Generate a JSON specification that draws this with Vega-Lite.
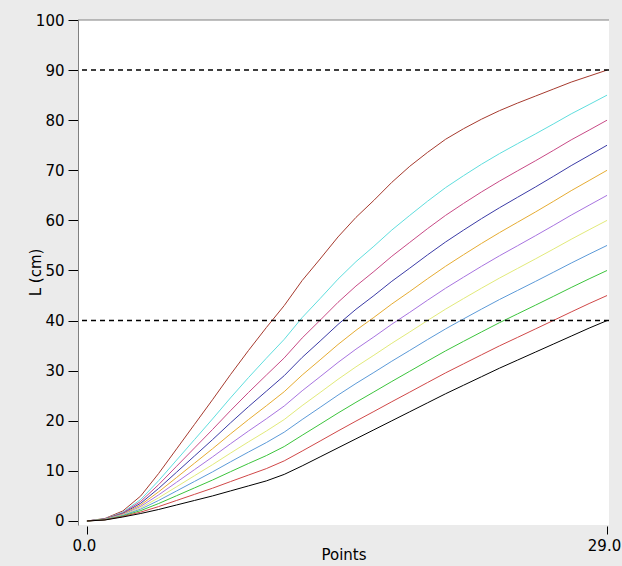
{
"$schema": "https://vega.github.io/schema/vega-lite/v6.json",
"width": 531, "height": 505,
"autosize": "none",
"padding": {"left": 78, "top": 20, "right": 13, "bottom": 41},
"background": "#ebebeb",
"config": {"view": {"fill": "white", "stroke": null}, "font": "DejaVu Sans"},
"datasets": {
"curves": [
{"s":"c01","x":0,"y":0},{"s":"c01","x":1,"y":0.5},{"s":"c01","x":2,"y":2},{"s":"c01","x":3,"y":5},{"s":"c01","x":4,"y":9.5},{"s":"c01","x":5,"y":14.4},{"s":"c01","x":6,"y":19.3},{"s":"c01","x":7,"y":24.2},{"s":"c01","x":8,"y":29.2},{"s":"c01","x":9,"y":34},{"s":"c01","x":10,"y":38.6},{"s":"c01","x":11,"y":43},{"s":"c01","x":12,"y":48},{"s":"c01","x":13,"y":52.3},{"s":"c01","x":14,"y":56.7},{"s":"c01","x":15,"y":60.6},{"s":"c01","x":16,"y":64},{"s":"c01","x":17,"y":67.6},{"s":"c01","x":18,"y":70.8},{"s":"c01","x":19,"y":73.6},{"s":"c01","x":20,"y":76.2},{"s":"c01","x":21,"y":78.3},{"s":"c01","x":22,"y":80.2},{"s":"c01","x":23,"y":81.9},{"s":"c01","x":24,"y":83.4},{"s":"c01","x":25,"y":84.8},{"s":"c01","x":26,"y":86.2},{"s":"c01","x":27,"y":87.6},{"s":"c01","x":28,"y":88.8},{"s":"c01","x":29,"y":90},
{"s":"c02","x":0,"y":0},{"s":"c02","x":1,"y":0.44},{"s":"c02","x":2,"y":1.76},{"s":"c02","x":3,"y":4.3},{"s":"c02","x":4,"y":8.06},{"s":"c02","x":5,"y":12.16},{"s":"c02","x":6,"y":16.26},{"s":"c02","x":7,"y":20.36},{"s":"c02","x":8,"y":24.56},{"s":"c02","x":9,"y":28.6},{"s":"c02","x":10,"y":32.48},{"s":"c02","x":11,"y":36.26},{"s":"c02","x":12,"y":40.6},{"s":"c02","x":13,"y":44.4},{"s":"c02","x":14,"y":48.28},{"s":"c02","x":15,"y":51.76},{"s":"c02","x":16,"y":54.84},{"s":"c02","x":17,"y":58.08},{"s":"c02","x":18,"y":61},{"s":"c02","x":19,"y":63.85},{"s":"c02","x":20,"y":66.55},{"s":"c02","x":21,"y":68.93},{"s":"c02","x":22,"y":71.21},{"s":"c02","x":23,"y":73.32},{"s":"c02","x":24,"y":75.29},{"s":"c02","x":25,"y":77.24},{"s":"c02","x":26,"y":79.23},{"s":"c02","x":27,"y":81.26},{"s":"c02","x":28,"y":83.12},{"s":"c02","x":29,"y":85},
{"s":"c03","x":0,"y":0},{"s":"c03","x":1,"y":0.41},{"s":"c03","x":2,"y":1.63},{"s":"c03","x":3,"y":3.92},{"s":"c03","x":4,"y":7.27},{"s":"c03","x":5,"y":10.93},{"s":"c03","x":6,"y":14.59},{"s":"c03","x":7,"y":18.25},{"s":"c03","x":8,"y":22.01},{"s":"c03","x":9,"y":25.63},{"s":"c03","x":10,"y":29.11},{"s":"c03","x":11,"y":32.55},{"s":"c03","x":12,"y":36.53},{"s":"c03","x":13,"y":40.06},{"s":"c03","x":14,"y":43.65},{"s":"c03","x":15,"y":46.9},{"s":"c03","x":16,"y":49.8},{"s":"c03","x":17,"y":52.84},{"s":"c03","x":18,"y":55.61},{"s":"c03","x":19,"y":58.38},{"s":"c03","x":20,"y":61.01},{"s":"c03","x":21,"y":63.39},{"s":"c03","x":22,"y":65.68},{"s":"c03","x":23,"y":67.83},{"s":"c03","x":24,"y":69.87},{"s":"c03","x":25,"y":71.88},{"s":"c03","x":26,"y":73.95},{"s":"c03","x":27,"y":76.07},{"s":"c03","x":28,"y":78.02},{"s":"c03","x":29,"y":80},
{"s":"c04","x":0,"y":0},{"s":"c04","x":1,"y":0.38},{"s":"c04","x":2,"y":1.5},{"s":"c04","x":3,"y":3.55},{"s":"c04","x":4,"y":6.51},{"s":"c04","x":5,"y":9.75},{"s":"c04","x":6,"y":12.99},{"s":"c04","x":7,"y":16.23},{"s":"c04","x":8,"y":19.57},{"s":"c04","x":9,"y":22.8},{"s":"c04","x":10,"y":25.9},{"s":"c04","x":11,"y":29.01},{"s":"c04","x":12,"y":32.65},{"s":"c04","x":13,"y":35.91},{"s":"c04","x":14,"y":39.23},{"s":"c04","x":15,"y":42.26},{"s":"c04","x":16,"y":44.99},{"s":"c04","x":17,"y":47.85},{"s":"c04","x":18,"y":50.47},{"s":"c04","x":19,"y":53.14},{"s":"c04","x":20,"y":55.7},{"s":"c04","x":21,"y":58.06},{"s":"c04","x":22,"y":60.35},{"s":"c04","x":23,"y":62.52},{"s":"c04","x":24,"y":64.59},{"s":"c04","x":25,"y":66.65},{"s":"c04","x":26,"y":68.77},{"s":"c04","x":27,"y":70.93},{"s":"c04","x":28,"y":72.96},{"s":"c04","x":29,"y":75},
{"s":"c05","x":0,"y":0},{"s":"c05","x":1,"y":0.35},{"s":"c05","x":2,"y":1.39},{"s":"c05","x":3,"y":3.22},{"s":"c05","x":4,"y":5.83},{"s":"c05","x":5,"y":8.69},{"s":"c05","x":6,"y":11.55},{"s":"c05","x":7,"y":14.41},{"s":"c05","x":8,"y":17.37},{"s":"c05","x":9,"y":20.23},{"s":"c05","x":10,"y":22.99},{"s":"c05","x":11,"y":25.81},{"s":"c05","x":12,"y":29.13},{"s":"c05","x":13,"y":32.16},{"s":"c05","x":14,"y":35.23},{"s":"c05","x":15,"y":38.06},{"s":"c05","x":16,"y":40.64},{"s":"c05","x":17,"y":43.32},{"s":"c05","x":18,"y":45.81},{"s":"c05","x":19,"y":48.38},{"s":"c05","x":20,"y":50.85},{"s":"c05","x":21,"y":53.15},{"s":"c05","x":22,"y":55.4},{"s":"c05","x":23,"y":57.55},{"s":"c05","x":24,"y":59.61},{"s":"c05","x":25,"y":61.66},{"s":"c05","x":26,"y":63.77},{"s":"c05","x":27,"y":65.93},{"s":"c05","x":28,"y":67.96},{"s":"c05","x":29,"y":70},
{"s":"c06","x":0,"y":0},{"s":"c06","x":1,"y":0.32},{"s":"c06","x":2,"y":1.29},{"s":"c06","x":3,"y":2.92},{"s":"c06","x":4,"y":5.22},{"s":"c06","x":5,"y":7.74},{"s":"c06","x":6,"y":10.26},{"s":"c06","x":7,"y":12.78},{"s":"c06","x":8,"y":15.4},{"s":"c06","x":9,"y":17.94},{"s":"c06","x":10,"y":20.39},{"s":"c06","x":11,"y":22.95},{"s":"c06","x":12,"y":25.99},{"s":"c06","x":13,"y":28.8},{"s":"c06","x":14,"y":31.65},{"s":"c06","x":15,"y":34.3},{"s":"c06","x":16,"y":36.75},{"s":"c06","x":17,"y":39.28},{"s":"c06","x":18,"y":41.65},{"s":"c06","x":19,"y":44.09},{"s":"c06","x":20,"y":46.46},{"s":"c06","x":21,"y":48.67},{"s":"c06","x":22,"y":50.84},{"s":"c06","x":23,"y":52.93},{"s":"c06","x":24,"y":54.92},{"s":"c06","x":25,"y":56.92},{"s":"c06","x":26,"y":58.96},{"s":"c06","x":27,"y":61.05},{"s":"c06","x":28,"y":63.03},{"s":"c06","x":29,"y":65},
{"s":"c07","x":0,"y":0},{"s":"c07","x":1,"y":0.3},{"s":"c07","x":2,"y":1.19},{"s":"c07","x":3,"y":2.64},{"s":"c07","x":4,"y":4.64},{"s":"c07","x":5,"y":6.84},{"s":"c07","x":6,"y":9.04},{"s":"c07","x":7,"y":11.24},{"s":"c07","x":8,"y":13.54},{"s":"c07","x":9,"y":15.78},{"s":"c07","x":10,"y":17.95},{"s":"c07","x":11,"y":20.25},{"s":"c07","x":12,"y":23.03},{"s":"c07","x":13,"y":25.64},{"s":"c07","x":14,"y":28.28},{"s":"c07","x":15,"y":30.77},{"s":"c07","x":16,"y":33.09},{"s":"c07","x":17,"y":35.47},{"s":"c07","x":18,"y":37.73},{"s":"c07","x":19,"y":40.04},{"s":"c07","x":20,"y":42.29},{"s":"c07","x":21,"y":44.4},{"s":"c07","x":22,"y":46.47},{"s":"c07","x":23,"y":48.48},{"s":"c07","x":24,"y":50.39},{"s":"c07","x":25,"y":52.3},{"s":"c07","x":26,"y":54.25},{"s":"c07","x":27,"y":56.23},{"s":"c07","x":28,"y":58.13},{"s":"c07","x":29,"y":60},
{"s":"c08","x":0,"y":0},{"s":"c08","x":1,"y":0.28},{"s":"c08","x":2,"y":1.1},{"s":"c08","x":3,"y":2.38},{"s":"c08","x":4,"y":4.1},{"s":"c08","x":5,"y":6},{"s":"c08","x":6,"y":7.9},{"s":"c08","x":7,"y":9.8},{"s":"c08","x":8,"y":11.8},{"s":"c08","x":9,"y":13.75},{"s":"c08","x":10,"y":15.65},{"s":"c08","x":11,"y":17.73},{"s":"c08","x":12,"y":20.25},{"s":"c08","x":13,"y":22.68},{"s":"c08","x":14,"y":25.13},{"s":"c08","x":15,"y":27.45},{"s":"c08","x":16,"y":29.65},{"s":"c08","x":17,"y":31.9},{"s":"c08","x":18,"y":34.05},{"s":"c08","x":19,"y":36.23},{"s":"c08","x":20,"y":38.35},{"s":"c08","x":21,"y":40.34},{"s":"c08","x":22,"y":42.29},{"s":"c08","x":23,"y":44.2},{"s":"c08","x":24,"y":46},{"s":"c08","x":25,"y":47.8},{"s":"c08","x":26,"y":49.63},{"s":"c08","x":27,"y":51.48},{"s":"c08","x":28,"y":53.26},{"s":"c08","x":29,"y":55},
{"s":"c09","x":0,"y":0},{"s":"c09","x":1,"y":0.25},{"s":"c09","x":2,"y":1},{"s":"c09","x":3,"y":2.08},{"s":"c09","x":4,"y":3.49},{"s":"c09","x":5,"y":5.05},{"s":"c09","x":6,"y":6.61},{"s":"c09","x":7,"y":8.17},{"s":"c09","x":8,"y":9.83},{"s":"c09","x":9,"y":11.46},{"s":"c09","x":10,"y":13.05},{"s":"c09","x":11,"y":14.86},{"s":"c09","x":12,"y":17.11},{"s":"c09","x":13,"y":19.32},{"s":"c09","x":14,"y":21.55},{"s":"c09","x":15,"y":23.69},{"s":"c09","x":16,"y":25.76},{"s":"c09","x":17,"y":27.85},{"s":"c09","x":18,"y":29.89},{"s":"c09","x":19,"y":31.94},{"s":"c09","x":20,"y":33.96},{"s":"c09","x":21,"y":35.86},{"s":"c09","x":22,"y":37.73},{"s":"c09","x":23,"y":39.58},{"s":"c09","x":24,"y":41.32},{"s":"c09","x":25,"y":43.06},{"s":"c09","x":26,"y":44.82},{"s":"c09","x":27,"y":46.6},{"s":"c09","x":28,"y":48.33},{"s":"c09","x":29,"y":50},
{"s":"c10","x":0,"y":0},{"s":"c10","x":1,"y":0.22},{"s":"c10","x":2,"y":0.9},{"s":"c10","x":3,"y":1.78},{"s":"c10","x":4,"y":2.88},{"s":"c10","x":5,"y":4.1},{"s":"c10","x":6,"y":5.32},{"s":"c10","x":7,"y":6.54},{"s":"c10","x":8,"y":7.86},{"s":"c10","x":9,"y":9.16},{"s":"c10","x":10,"y":10.45},{"s":"c10","x":11,"y":12},{"s":"c10","x":12,"y":13.96},{"s":"c10","x":13,"y":15.96},{"s":"c10","x":14,"y":17.97},{"s":"c10","x":15,"y":19.94},{"s":"c10","x":16,"y":21.86},{"s":"c10","x":17,"y":23.81},{"s":"c10","x":18,"y":25.72},{"s":"c10","x":19,"y":27.65},{"s":"c10","x":20,"y":29.57},{"s":"c10","x":21,"y":31.37},{"s":"c10","x":22,"y":33.17},{"s":"c10","x":23,"y":34.95},{"s":"c10","x":24,"y":36.63},{"s":"c10","x":25,"y":38.32},{"s":"c10","x":26,"y":40.01},{"s":"c10","x":27,"y":41.72},{"s":"c10","x":28,"y":43.4},{"s":"c10","x":29,"y":45},
{"s":"c11","x":0,"y":0},{"s":"c11","x":1,"y":0.2},{"s":"c11","x":2,"y":0.8},{"s":"c11","x":3,"y":1.5},{"s":"c11","x":4,"y":2.3},{"s":"c11","x":5,"y":3.2},{"s":"c11","x":6,"y":4.1},{"s":"c11","x":7,"y":5},{"s":"c11","x":8,"y":6},{"s":"c11","x":9,"y":7},{"s":"c11","x":10,"y":8},{"s":"c11","x":11,"y":9.3},{"s":"c11","x":12,"y":11},{"s":"c11","x":13,"y":12.8},{"s":"c11","x":14,"y":14.6},{"s":"c11","x":15,"y":16.4},{"s":"c11","x":16,"y":18.2},{"s":"c11","x":17,"y":20},{"s":"c11","x":18,"y":21.8},{"s":"c11","x":19,"y":23.6},{"s":"c11","x":20,"y":25.4},{"s":"c11","x":21,"y":27.1},{"s":"c11","x":22,"y":28.8},{"s":"c11","x":23,"y":30.5},{"s":"c11","x":24,"y":32.1},{"s":"c11","x":25,"y":33.7},{"s":"c11","x":26,"y":35.3},{"s":"c11","x":27,"y":36.9},{"s":"c11","x":28,"y":38.5},{"s":"c11","x":29,"y":40}
],
"refs": [{"y": 40}, {"y": 90}],
"border": [{"y": 100}]
},
"layer": [
{"data": {"name": "border"}, "mark": {"type": "rule", "color": "#808080", "strokeWidth": 1},
 "encoding": {"y": {"field": "y", "type": "quantitative"}}},
{"data": {"name": "curves"}, "mark": {"type": "line", "strokeWidth": 1},
 "encoding": {
  "x": {"field": "x", "type": "quantitative", "scale": {"domain": [-0.5, 29.11], "nice": false, "zero": false},
   "axis": {"values": [0, 29], "format": ".1f", "title": "Points", "domain": false, "grid": false, "tickColor": "black", "tickSize": 8, "offset": 1, "labelFontSize": 15, "labelColor": "black", "labelPadding": 4, "labelFlush": false, "labelOffset": -3, "titleFontSize": 15, "titleFontWeight": "normal", "titleColor": "black", "titleY": 28, "titleBaseline": "middle"}},
  "y": {"field": "y", "type": "quantitative", "scale": {"domain": [-0.8, 100], "nice": false, "zero": false},
   "axis": {"values": [0,10,20,30,40,50,60,70,80,90,100], "title": "L (cm)", "grid": false, "domainColor": "#808080", "tickColor": "black", "tickSize": 10, "labelFontSize": 15, "labelPadding": 4, "labelColor": "black", "titleFontSize": 15, "titleFontWeight": "normal", "titleColor": "black", "titleX": -43, "titleY": 252, "titleAngle": 270, "titleBaseline": "middle", "titleAlign": "center"}},
  "color": {"field": "s", "type": "nominal", "legend": null,
   "scale": {"domain": ["c01","c02","c03","c04","c05","c06","c07","c08","c09","c10","c11"],
    "range": ["#a63a2e","#5fdede","#c84a86","#3b3ba6","#e6ac32","#a874e0","#e2ea7a","#5c9ad8","#3cc43c","#d04848","#000000"]}}
 }},
{"data": {"name": "refs"}, "mark": {"type": "rule", "color": "black", "strokeDash": [5, 4], "strokeWidth": 1.5},
 "encoding": {"y": {"field": "y", "type": "quantitative"}}}
]
}
